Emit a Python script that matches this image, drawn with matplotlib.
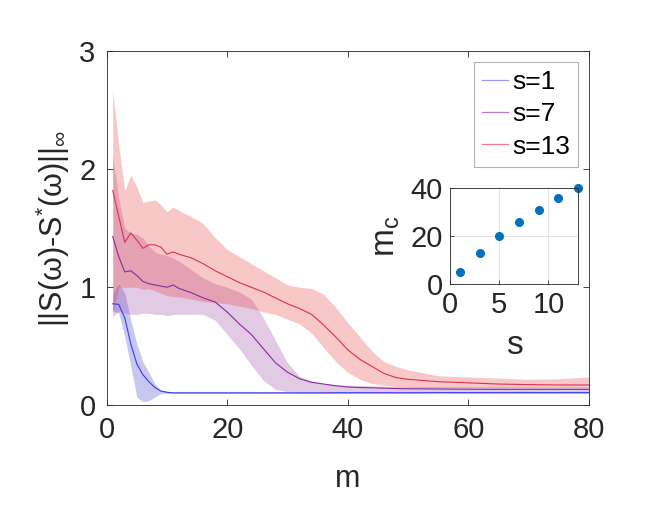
import matplotlib
matplotlib.use("Agg")
import matplotlib.pyplot as plt
from matplotlib.lines import Line2D
import numpy as np

plt.rcParams['font.family'] = ['Liberation Sans', 'DejaVu Sans']
plt.rcParams['mathtext.fontset'] = 'custom'
plt.rcParams['mathtext.rm'] = 'Liberation Sans'
plt.rcParams['mathtext.it'] = 'Liberation Sans'

m = [1, 2, 3, 4, 5, 6, 7, 8, 9, 10, 11, 12, 14, 16, 18, 20, 22, 24, 26, 28, 30,
     32, 34, 36, 38, 40, 42, 44, 46, 48, 50, 55, 60, 65, 70, 75, 80]

s1_mean = [0.86, 0.855, 0.74, 0.52, 0.35, 0.26, 0.20, 0.15, 0.12, 0.11, 0.105, 0.105,
           0.105, 0.105, 0.105, 0.105, 0.105, 0.105, 0.105, 0.105, 0.105, 0.105, 0.105,
           0.105, 0.106, 0.106, 0.106, 0.106, 0.106, 0.106, 0.106, 0.107, 0.107, 0.107,
           0.107, 0.107, 0.107]
s1_upper = [0.95, 1.03, 0.95, 0.72, 0.52, 0.37, 0.28, 0.18, 0.13, 0.118, 0.115, 0.115,
            0.115, 0.115, 0.115, 0.115, 0.115, 0.115, 0.115, 0.115, 0.115, 0.115, 0.115,
            0.115, 0.116, 0.116, 0.116, 0.116, 0.116, 0.116, 0.117, 0.117, 0.117, 0.118,
            0.118, 0.118, 0.118]
s1_lower = [0.80, 0.78, 0.58, 0.33, 0.07, 0.03, 0.04, 0.07, 0.10, 0.10, 0.10, 0.10,
            0.10, 0.10, 0.10, 0.10, 0.10, 0.10, 0.10, 0.10, 0.10, 0.10, 0.10,
            0.10, 0.10, 0.10, 0.10, 0.10, 0.10, 0.10, 0.10, 0.10, 0.10, 0.10,
            0.10, 0.10, 0.10]

s7_mean = [1.43, 1.26, 1.13, 1.14, 1.10, 1.05, 1.03, 1.02, 1.01, 1.00, 1.02, 0.99,
           0.955, 0.91, 0.875, 0.79, 0.69, 0.60, 0.48, 0.36, 0.28, 0.225, 0.195,
           0.18, 0.165, 0.155, 0.15, 0.148, 0.145, 0.142, 0.14, 0.138, 0.136, 0.135,
           0.135, 0.135, 0.135]
s7_upper = [2.12, 1.75, 1.50, 1.46, 1.45, 1.42, 1.35, 1.30, 1.28, 1.27, 1.25, 1.22,
            1.15, 1.08, 1.03, 1.00, 0.96, 0.90, 0.74, 0.55, 0.36, 0.245, 0.205,
            0.185, 0.175, 0.17, 0.168, 0.165, 0.163, 0.16, 0.16, 0.158, 0.157, 0.156,
            0.155, 0.155, 0.155]
s7_lower = [0.75, 0.80, 0.78, 0.77, 0.77, 0.78, 0.78, 0.77, 0.77, 0.76, 0.77, 0.77,
            0.77, 0.77, 0.72, 0.60, 0.48, 0.34, 0.21, 0.135, 0.115, 0.11, 0.11,
            0.11, 0.11, 0.11, 0.11, 0.11, 0.11, 0.115, 0.115, 0.115, 0.115, 0.115,
            0.115, 0.115, 0.115]

s13_mean = [1.82, 1.60, 1.38, 1.46, 1.40, 1.33, 1.36, 1.36, 1.34, 1.28, 1.30, 1.28,
            1.25, 1.20, 1.14, 1.09, 1.04, 1.00, 0.96, 0.91, 0.86, 0.82, 0.77,
            0.68, 0.58, 0.47, 0.39, 0.33, 0.27, 0.235, 0.22, 0.20, 0.19, 0.18,
            0.175, 0.172, 0.172]
s13_upper = [2.67, 2.20, 1.82, 1.95, 1.85, 1.72, 1.73, 1.74, 1.70, 1.64, 1.68, 1.65,
             1.60, 1.54, 1.42, 1.32, 1.26, 1.20, 1.14, 1.08, 1.02, 1.00, 0.99,
             0.94, 0.83, 0.70, 0.58, 0.46, 0.37, 0.33, 0.30, 0.25, 0.24, 0.23,
             0.22, 0.225, 0.24]
s13_lower = [0.78, 1.00, 1.00, 1.00, 1.00, 0.98, 0.99, 0.97, 0.95, 0.93, 0.92, 0.92,
             0.90, 0.88, 0.87, 0.86, 0.84, 0.82, 0.79, 0.77, 0.73, 0.69, 0.61,
             0.49, 0.37, 0.28, 0.22, 0.185, 0.17, 0.16, 0.155, 0.15, 0.15, 0.15,
             0.15, 0.15, 0.15]

labels = ['s=1', 's=7', 's=13']

inset_s = [1, 3, 5, 7, 9, 11, 13]
inset_mc = [5, 13, 20, 26, 31, 36, 40]

line_colors = ['#3a3af0', '#8a2a9e', '#e0304a']
legend_colors = ['#9a9af5', '#b877d0', '#f07890']
fill_colors = ['#9a40a0', '#9a40a0', '#eb4747']
fill_colors[0] = '#4848cc'
fill_alpha = [0.30, 0.28, 0.30]

fig = plt.figure(figsize=(6.64, 5.13), dpi=100)
ax = fig.add_axes([0.1607, 0.21, 0.726, 0.690])

series = [(s1_mean, s1_lower, s1_upper), (s7_mean, s7_lower, s7_upper),
          (s13_mean, s13_lower, s13_upper)]
for i, (mu, lo, hi) in enumerate(series):
    ax.fill_between(m, lo, hi, color=fill_colors[i], alpha=fill_alpha[i], linewidth=0)
for i, (mu, lo, hi) in enumerate(series):
    ax.plot(m, mu, color=line_colors[i], linewidth=0.8)

ax.set_xlim(0, 80)
ax.set_ylim(0, 3)
ax.set_xticks([0, 20, 40, 60, 80])
ax.set_yticks([0, 1, 2, 3])
ax.tick_params(direction='in', top=True, right=True, labelsize=21, length=4,
               width=0.6, colors='#262626', pad=8)
for sp in ax.spines.values():
    sp.set_color('#262626')
    sp.set_linewidth(0.6)
ax.set_xlabel('m', fontsize=22, color='#262626', labelpad=14)
ax.set_ylabel(r'||S(ω)-S$^{*}$(ω)||$_{\infty}$', fontsize=22, color='#262626', labelpad=5)

handles = [Line2D([0], [0], color=c, linewidth=0.9) for c in legend_colors]
leg = ax.legend(handles, labels, loc='upper right', fontsize=19, frameon=True,
                fancybox=False, edgecolor='#a0a0a0', handlelength=1.0,
                handletextpad=0.15, borderpad=0.3, labelspacing=0.32,
                borderaxespad=0.4)
leg.get_frame().set_linewidth(0.8)

ins = fig.add_axes([0.6777, 0.4464, 0.1928, 0.1871])
ins.plot(inset_s, inset_mc, 'o', color='#0072BD', markersize=5.5, clip_on=False)
ins.set_xlim(0, 13)
ins.set_ylim(0, 40)
ins.set_xticks([0, 5, 10])
ins.set_yticks([0, 20, 40])
ins.grid(True, color='#e0e0e0', linewidth=0.6)
ins.set_axisbelow(True)
ins.tick_params(direction='in', labelsize=21, length=3, width=0.6, colors='#262626', pad=5)
for sp in ins.spines.values():
    sp.set_color('#262626')
    sp.set_linewidth(0.6)
ins.set_xlabel('s', fontsize=24, color='#262626', labelpad=8)
ins.set_ylabel(r'm$_{\rm c}$', fontsize=24, color='#262626', labelpad=6)

fig.savefig('out.png', dpi=100)
